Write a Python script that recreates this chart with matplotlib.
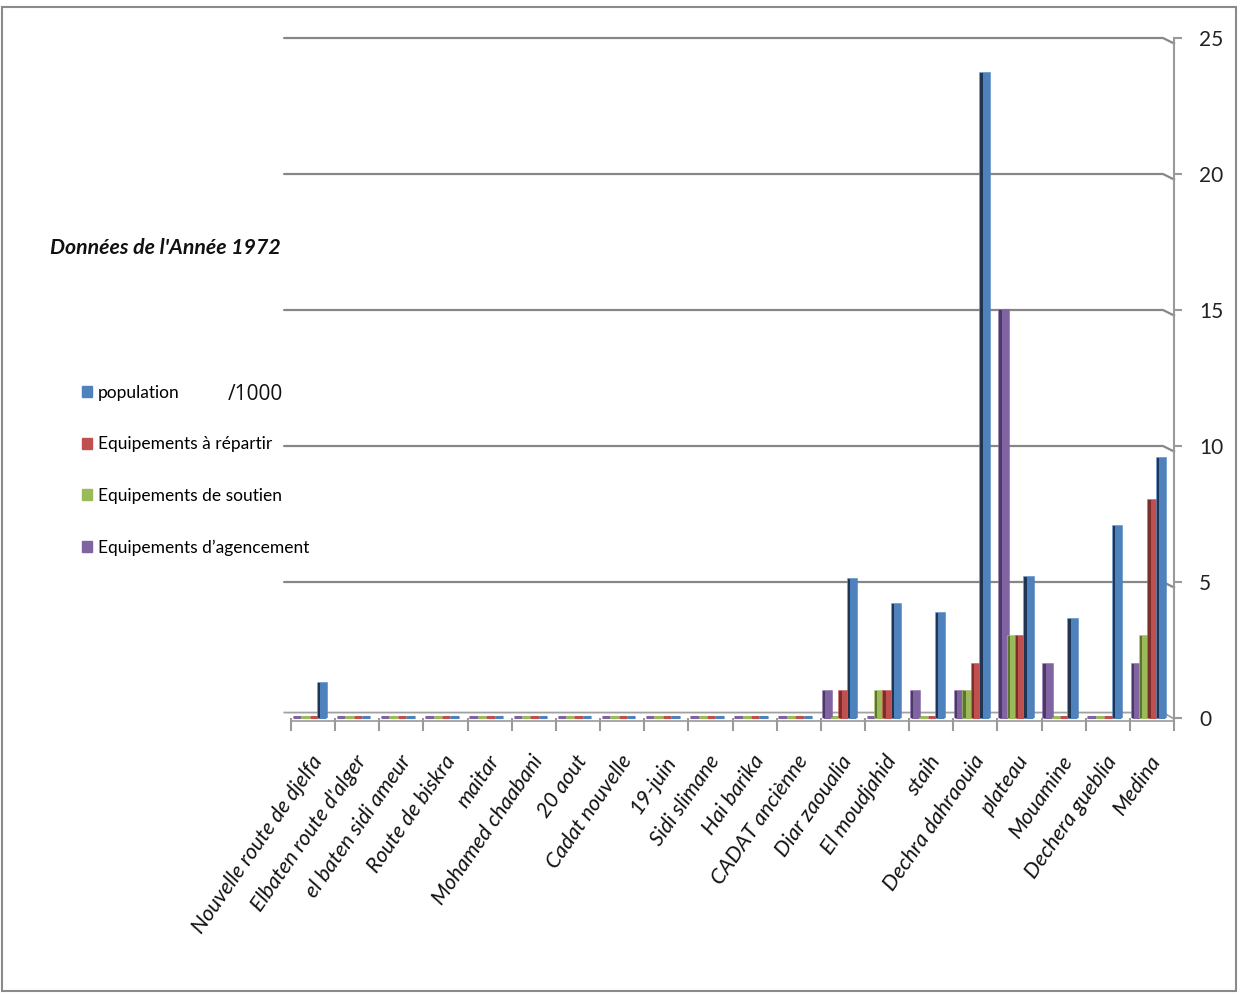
import numpy as np
import matplotlib
matplotlib.use("Agg")
import matplotlib.pyplot as plt
from matplotlib.patches import Rectangle, Patch

plt.rcParams['font.family'] = ['Lato', 'DejaVu Sans']

quartiers = ["Nouvelle route de djelfa", "Elbaten route d'alger", "el baten sidi ameur",
             "Route de biskra", "maitar", "Mohamed chaabani", "20 aout", "Cadat nouvelle",
             "19-juin", "Sidi slimane", "Hai barika", "CADAT anciènne", "Diar zaoualia",
             "El moudjahid", "staih", "Dechra dahraouia", "plateau", "Mouamine",
             "Dechera gueblia", "Medina"]
population = [1.3, 0, 0, 0, 0, 0, 0, 0, 0, 0, 0, 0, 5.1, 4.2, 3.85, 23.7, 5.2, 3.65, 7.05, 9.55]
eq_repartir = [0, 0, 0, 0, 0, 0, 0, 0, 0, 0, 0, 0, 1, 1, 0, 2, 3, 0, 0, 8]
eq_soutien = [0, 0, 0, 0, 0, 0, 0, 0, 0, 0, 0, 0, 0, 1, 0, 1, 3, 0, 0, 3]
eq_agencement = [0, 0, 0, 0, 0, 0, 0, 0, 0, 0, 0, 0, 1, 0, 1, 1, 15, 2, 0, 2]
yticks = [0, 5, 10, 15, 20, 25]

# left to right order inside a cluster: purple, green, red, blue
series = [
    (eq_agencement, "#8064A2", "#4b3a63", "Equipements d\u2019agencement"),
    (eq_soutien, "#9BBB59", "#5e7434", "Equipements de soutien"),
    (eq_repartir, "#C0504D", "#7a2f2d", "Equipements à répartir"),
    (population, "#4F81BD", "#1f3552", "population"),
]

fig = plt.figure(figsize=(12.41, 9.94), dpi=100)
ax = fig.add_axes([291 / 1241, 1 - 718 / 994, (1174 - 291) / 1241, (718 - 38) / 994])

# back wall gridlines with 3D hook
for t in yticks[1:]:
    ax.plot([-0.65, 19.25, 19.5], [t, t, t - 0.2], color="#878787", lw=1.6,
            zorder=1, clip_on=False)
# floor
ax.plot([-0.65, 19.25, 19.5], [0.2, 0.2, -0.03], color="#a0a0a0", lw=1.3, zorder=1, clip_on=False)
ax.plot([-0.5, 19.5], [-0.12, -0.12], color="#a0a0a0", lw=1.3, zorder=1, clip_on=False)

x = np.arange(len(quartiers))
w = 0.19
for i, (vals, col, dark, lab) in enumerate(series):
    pos = x - 0.5 + 0.04 + w * i + w / 2
    ax.bar(pos, vals, width=w, color=col, edgecolor=col, linewidth=1.8, zorder=3)
    ax.bar(pos - w * 0.36, vals, width=w * 0.28, color=dark, linewidth=0, zorder=4)
    # flat strip on the floor under each bar (visible for zero values)
    ax.hlines(np.zeros(len(pos)) + 0.04, pos - w / 2, pos + w / 2, color=col, lw=2.2,
              zorder=2, clip_on=False)

ax.set_xlim(-0.5, 19.5)
ax.set_ylim(0, 25)
ax.set_xticks(np.arange(-0.5, 20.0, 1.0))
ax.tick_params(axis='x', length=9, width=1.5, color="#9a9a9a", labelbottom=False)
for i, q in enumerate(quartiers):
    ax.text(i + 0.12, -1.45, q, rotation=55, rotation_mode='anchor', ha='right', va='center',
            fontsize=15.5, style='italic', color="#111111")

ax.yaxis.tick_right()
ax.set_yticks(yticks)
ax.set_yticklabels([str(t) for t in yticks])
ax.tick_params(axis='y', length=6, width=1.5, color="#9a9a9a", pad=12,
               labelsize=15, labelcolor="#222222")
for s in ['top', 'left', 'bottom']:
    ax.spines[s].set_visible(False)
ax.spines['right'].set_color("#9a9a9a")
ax.spines['right'].set_linewidth(1.5)

fig.text(50 / 1241, 1 - 248 / 994, "Données de l'Année 1972", fontsize=15.3, style='italic',
         weight='bold', va='center', ha='left', color="#111111")

handles = [Patch(facecolor=c, edgecolor=c) for (_, c, _, _) in series[::-1]]
labels = [l for (_, _, _, l) in series[::-1]]
fig.legend(handles, labels, loc='upper left', bbox_to_anchor=(66 / 1241, 1 - 369 / 994),
           frameon=False, fontsize=12.5, handlelength=0.6, handleheight=0.6,
           handletextpad=0.35, labelspacing=2.05)
fig.text(228 / 1241, 1 - 395 / 994, "/1000", fontsize=15, va='center', ha='left',
         family=['Open Sans', 'DejaVu Sans'], color="#111111")

fig.add_artist(Rectangle((0.002, 0.003), 0.994, 0.99, transform=fig.transFigure,
                         fill=False, edgecolor="#8a8a8a", lw=1.5))

fig.savefig("out.png", dpi=100)
